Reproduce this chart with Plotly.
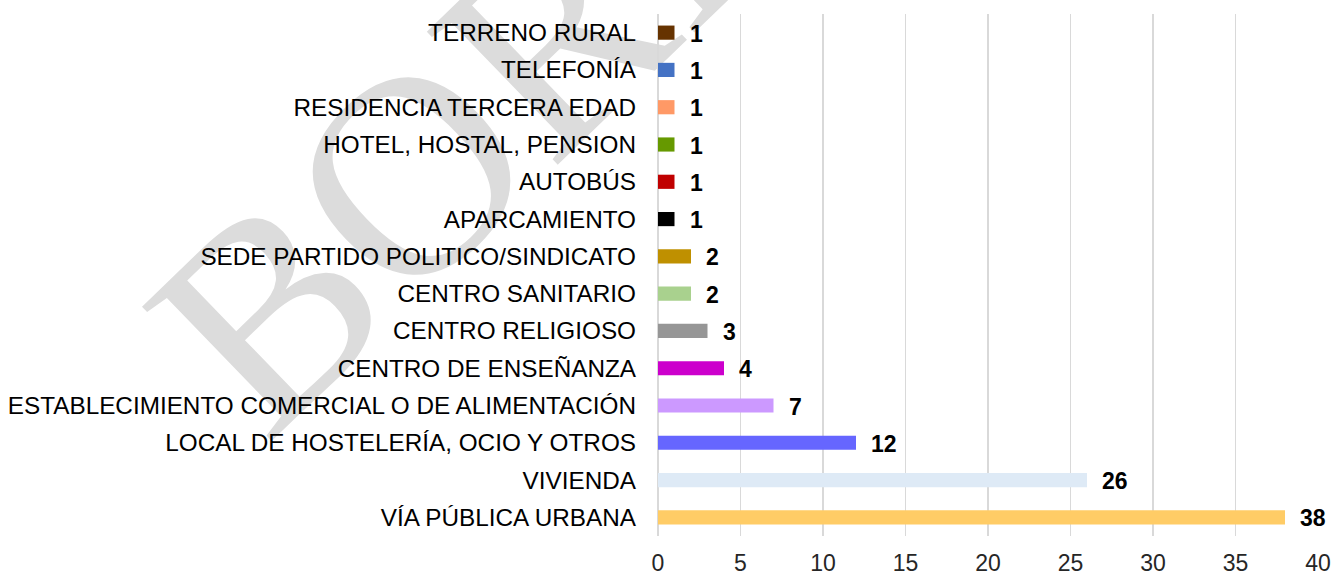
import plotly.graph_objects as go

categories = [
    "VÍA PÚBLICA URBANA",
    "VIVIENDA",
    "LOCAL DE HOSTELERÍA, OCIO Y OTROS",
    "ESTABLECIMIENTO COMERCIAL O DE ALIMENTACIÓN",
    "CENTRO DE ENSEÑANZA",
    "CENTRO RELIGIOSO",
    "CENTRO SANITARIO",
    "SEDE PARTIDO POLITICO/SINDICATO",
    "APARCAMIENTO",
    "AUTOBÚS",
    "HOTEL, HOSTAL, PENSION",
    "RESIDENCIA TERCERA EDAD",
    "TELEFONÍA",
    "TERRENO RURAL",
]
values = [38, 26, 12, 7, 4, 3, 2, 2, 1, 1, 1, 1, 1, 1]
colors = [
    "#FFCC66", "#DEEAF6", "#6666FF", "#CC99FF", "#CC00CC", "#969696",
    "#A9D18E", "#BF9000", "#000000", "#C00000", "#669900", "#FF9966",
    "#4472C4", "#663300",
]
x_ticks = [0, 5, 10, 15, 20, 25, 30, 35, 40]
watermark = "BORRADOR"

fig = go.Figure()
fig.add_trace(go.Bar(
    y=categories, x=values, orientation="h",
    marker=dict(color=colors, line=dict(width=0)),
    hoverinfo="skip",
))

for c, v in zip(categories, values):
    fig.add_annotation(
        x=v, y=c, xref="x", yref="y", text=f"<b>{v}</b>", showarrow=False,
        xanchor="left", yanchor="middle", xshift=13, yshift=-1,
        font=dict(family="Liberation Sans, Arial", size=23, color="#000000"),
    )

# watermark drawn below everything
fig.add_shape(
    type="rect", xref="paper", yref="paper",
    x0=0.105, x1=0.165, y0=1.37, y1=1.43, layer="below",
    line=dict(width=0), fillcolor="rgba(0,0,0,0)",
    label=dict(text=watermark, textangle=-44, textposition="middle center",
               font=dict(family="Liberation Serif, Times New Roman", size=285, color="#DCDCDC")),
)

fig.update_layout(
    width=1333, height=574,
    margin=dict(l=658, r=15, t=14, b=38, autoexpand=False),
    plot_bgcolor="white", paper_bgcolor="white",
    bargap=0.62,
    showlegend=False,
    font=dict(family="Liberation Sans, Arial", size=24, color="#000000"),
)
fig.update_xaxes(
    range=[0, 40], tickvals=x_ticks, ticktext=[str(t) for t in x_ticks],
    showgrid=True, gridcolor="#D9D9D9", gridwidth=1.5,
    zeroline=True, zerolinecolor="#D9D9D9", zerolinewidth=1.5,
    showline=False, ticks="", ticklabelstandoff=11,
    tickfont=dict(size=23, color="#262626"),
    fixedrange=True, automargin=False,
)
fig.update_yaxes(
    categoryorder="array", categoryarray=categories,
    range=[-0.5, 13.5], showgrid=False, zeroline=False, showline=False,
    ticks="", ticklabelstandoff=21, tickfont=dict(size=24.3, color="#000000"),
    fixedrange=True, automargin=False,
)

fig.write_html(
    "out.html",
    config={"displayModeBar": False, "staticPlot": True},
    post_script="document.body.style.margin='0px';document.body.style.overflow='hidden';",
)
